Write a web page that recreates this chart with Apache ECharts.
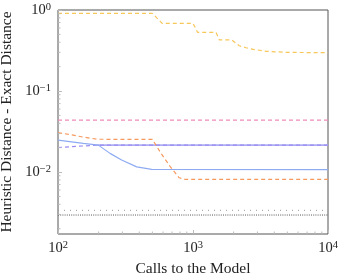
<!DOCTYPE html>
<html>
<head>
<meta charset="utf-8">
<script src="https://cdn.jsdelivr.net/npm/echarts@6/dist/echarts.min.js"></script>
<style>html,body{margin:0;padding:0;background:#fff}#c{width:342px;height:275px}</style>
</head>
<body>
<div id="c"></div>
<script>
// ---- data ----
const yellowX = [100, 500, 590, 1000, 1080, 1480, 1570, 1940, 2200, 2470, 2800, 3500, 4900, 10000];
const yellowY = [0.91, 0.91, 0.685, 0.685, 0.531, 0.531, 0.427, 0.427, 0.362, 0.342, 0.327, 0.309, 0.300, 0.297];
const pinkX = [100, 10000];
const pinkY = [0.0438, 0.0438];
const orangeX = [100, 123, 154, 195, 500, 580, 680, 790, 880, 10000];
const orangeY = [0.0306, 0.0290, 0.0270, 0.0254, 0.0253, 0.0170, 0.0116, 0.0085, 0.0081, 0.0081];
const blueX = [100, 154, 199, 243, 296, 383, 494, 10000];
const blueY = [0.0248, 0.0226, 0.0215, 0.0170, 0.0141, 0.0116, 0.0108, 0.0107];
const purpleX = [100, 195, 10000];
const purpleY = [0.0201, 0.0215, 0.0215];
const lavenderX = [195, 10000];
const lavenderY = [0.0215, 0.0215];
const grayLightX = [100, 10000];
const grayLightY = [0.00337, 0.00337];
const grayDarkX = [100, 10000];
const grayDarkY = [0.00295, 0.00295];
const xMinorTicks = [200, 300, 400, 500, 600, 700, 800, 900, 2000, 3000, 4000, 5000, 6000, 7000, 8000, 9000];
const yMinorTicks = [0.002, 0.003, 0.004, 0.005, 0.006, 0.007, 0.008, 0.009,
  0.02, 0.03, 0.04, 0.05, 0.06, 0.07, 0.08, 0.09,
  0.2, 0.3, 0.4, 0.5, 0.6, 0.7, 0.8, 0.9];
const xMin = 100, xMax = 10000, yMin = 0.00172, yMax = 1;

const zip = (xs, ys) => xs.map((x, i) => [x, ys[i]]);
const FONT = '"Liberation Serif", "DejaVu Serif", serif';

function powLabel(v) {
  const e = Math.round(Math.log10(v));
  if (Math.abs(Math.log10(v) - e) > 1e-6) return '';
  const s = e < 0 ? '\u2212' + (-e) : String(e);
  return '{b|10}{s|' + s + '}';
}
const rich = {
  b: { fontSize: 14.5, fontFamily: FONT, color: '#222', verticalAlign: 'bottom' },
  s: { fontSize: 10.5, fontFamily: FONT, color: '#222', verticalAlign: 'top', padding: [0, 0, 5, 0] }
};

function lineSeries(xs, ys, color, width, type) {
  return {
    type: 'line', data: zip(xs, ys), showSymbol: false, symbol: 'none',
    lineStyle: { color: color, width: width, type: type }, silent: true, z: 3
  };
}

const chart = echarts.init(document.getElementById('c'), null, { renderer: 'canvas' });
chart.setOption({
  animation: false,
  grid: { left: 58, right: 14, top: 10, bottom: 41, containLabel: false, outerBoundsMode: 'none',
    show: true, borderColor: '#555', borderWidth: 1, backgroundColor: 'transparent' },
  xAxis: {
    type: 'log', logBase: 10, min: xMin, max: xMax,
    name: 'Calls to the Model', nameLocation: 'middle', nameGap: 26,
    nameTextStyle: { fontFamily: FONT, fontSize: 15.5, color: '#222' },
    axisLine: { show: false },
    axisTick: { show: true, inside: true, length: 4, lineStyle: { color: '#bbb' } },
    splitLine: { show: false },
    axisLabel: { formatter: powLabel, rich: rich, margin: 6 }
  },
  yAxis: {
    type: 'log', logBase: 10, min: yMin, max: yMax,
    name: 'Heuristic Distance - Exact Distance', nameLocation: 'middle', nameGap: 42,
    nameTextStyle: { fontFamily: FONT, fontSize: 15.5, color: '#222' },
    axisLine: { show: false },
    axisTick: { show: true, inside: true, length: 4, lineStyle: { color: '#bbb' } },
    splitLine: { show: false },
    axisLabel: { formatter: powLabel, rich: rich, margin: 7, showMinLabel: false }
  },
  series: [
    lineSeries(grayLightX, grayLightY, '#9a9a9a', 1, [1, 5]),
    lineSeries(grayDarkX, grayDarkY, '#555', 1, [1, 1.2]),
    lineSeries(lavenderX, lavenderY, '#aeaef4', 1.6, 'solid'),
    lineSeries(purpleX, purpleY, '#9a8cf0', 1.2, [4, 3]),
    lineSeries(blueX, blueY, '#8eabf2', 1.2, 'solid'),
    lineSeries(orangeX, orangeY, '#f7995e', 1.2, [4, 3]),
    lineSeries(pinkX, pinkY, '#f08cb8', 1.2, [4, 3]),
    lineSeries(yellowX, yellowY, '#f8c75a', 1.2, [4, 3]),
    {
      type: 'custom', silent: true, clip: false, z: 4,
      data: xMinorTicks.map(v => [v, yMin]),
      renderItem: function (params, api) {
        const p = api.coord([api.value(0), yMin]);
        return { type: 'line', shape: { x1: p[0], y1: p[1], x2: p[0], y2: p[1] - 2.5 }, style: { stroke: '#bbb', lineWidth: 1 } };
      }
    },
    {
      type: 'custom', silent: true, clip: false, z: 4,
      data: yMinorTicks.map(v => [xMin, v]),
      renderItem: function (params, api) {
        const p = api.coord([xMin, api.value(1)]);
        return { type: 'line', shape: { x1: p[0], y1: p[1], x2: p[0] + 2.5, y2: p[1] }, style: { stroke: '#bbb', lineWidth: 1 } };
      }
    }
  ]
});
</script>
</body>
</html>
